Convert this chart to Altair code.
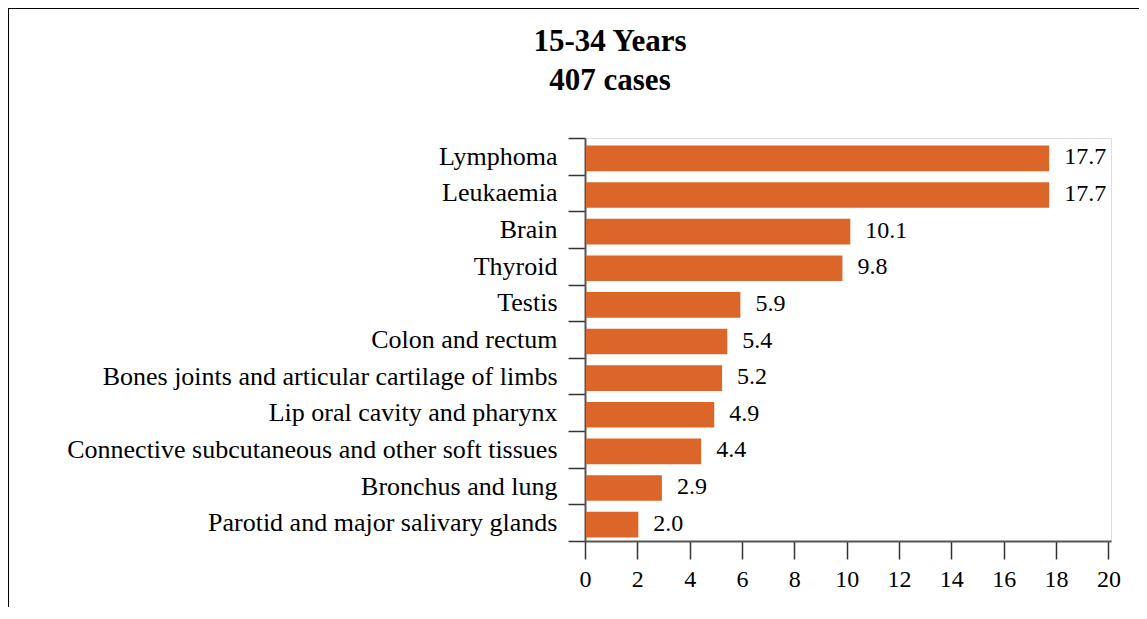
import altair as alt
import pandas as pd

categories = [
    "Lymphoma",
    "Leukaemia",
    "Brain",
    "Thyroid",
    "Testis",
    "Colon and rectum",
    "Bones joints and articular cartilage of limbs",
    "Lip oral cavity and pharynx",
    "Connective subcutaneous and other soft tissues",
    "Bronchus and lung",
    "Parotid and major salivary glands",
]
values = [17.7, 17.7, 10.1, 9.8, 5.9, 5.4, 5.2, 4.9, 4.4, 2.9, 2.0]
x_ticks = [0, 2, 4, 6, 8, 10, 12, 14, 16, 18, 20]
title_lines = ["15-34 Years", "407 cases"]

df = pd.DataFrame({"site": categories, "pct": values})

FONT = "Liberation Serif"
BAR = "#DC6529"

y_enc = alt.Y(
    "site:N",
    sort=None,
    scale=alt.Scale(paddingInner=0, paddingOuter=0),
    axis=alt.Axis(
        title=None,
        labelFontSize=26,
        labelFont=FONT,
        labelColor="black",
        tickSize=17,
        labelPadding=11,
        tickBand="extent",
        domainColor="#555555",
        domainWidth=2,
        tickColor="#333333",
        tickWidth=1.5,
        labelLimit=700,
    ),
)
x_enc = alt.X(
    "pct:Q",
    scale=alt.Scale(domain=[0, 20.1], nice=False),
    axis=alt.Axis(
        title=None,
        values=x_ticks,
        grid=False,
        labelFontSize=24,
        labelFont=FONT,
        labelColor="black",
        tickSize=18,
        labelPadding=8,
        domainColor="#555555",
        domainWidth=2,
        tickColor="#333333",
        tickWidth=1.5,
        labelFlush=False,
    ),
)

border_data = alt.Data(values=[{"k": 1}])
left_edge = alt.Chart(border_data).mark_rule(color="black", strokeWidth=2).encode(
    x=alt.value(-577), y=alt.value(-131), y2=alt.value(1000)
)
top_edge = alt.Chart(border_data).mark_rule(color="black", strokeWidth=2).encode(
    x=alt.value(-578), x2=alt.value(1000), y=alt.value(-130)
)

bars = alt.Chart(df).mark_bar(
    color=BAR, height={"band": 0.7}, yOffset=2, xOffset=1
).encode(x=x_enc, y=y_enc)

labels = alt.Chart(df).mark_text(
    align="left", baseline="middle", dx=16, yOffset=1, fontSize=24, font=FONT, color="black"
).encode(x=alt.X("pct:Q"), y=alt.Y("site:N", sort=None), text=alt.Text("pct:Q", format=".1f"))

chart = alt.layer(left_edge, top_edge, bars, labels).properties(
    width=526,
    height=403,
    autosize=alt.AutoSizeParams(type="none"),
    padding={"left": 577, "top": 130, "right": 28, "bottom": 66},
    title=alt.TitleParams(
        text=title_lines,
        font=FONT,
        fontSize=31,
        fontWeight="bold",
        color="black",
        lineHeight=39,
        anchor="middle",
        dx=-238,
        offset=-91,
    ),
).configure_view(stroke="#333333", strokeWidth=1.5).configure(background="white")

chart.save("out.html", embed_options={"renderer": "svg", "actions": False})
